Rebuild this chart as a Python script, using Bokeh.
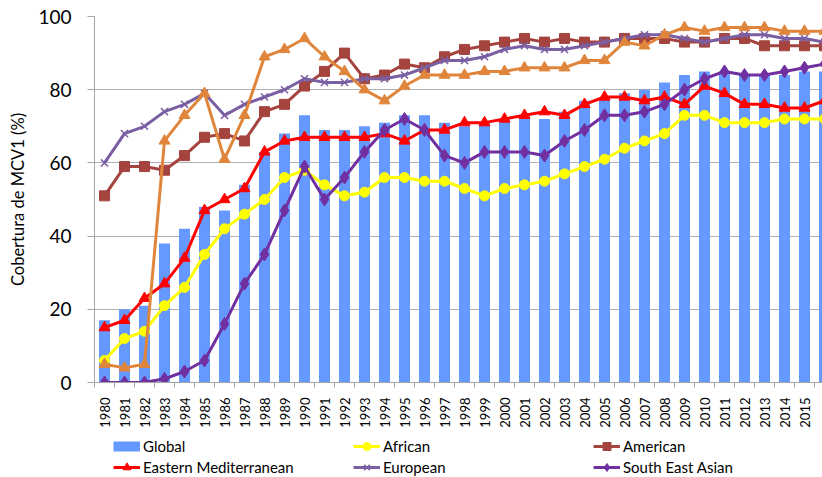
import math
from bokeh.plotting import figure
from bokeh.layouts import column
from bokeh.models import FixedTicker, Legend, LegendItem, Range1d
from bokeh.embed import file_html
from bokeh.resources import INLINE

years = [str(y) for y in range(1980, 2017)]
global_cov = [17, 20, 21, 38, 42, 48, 47, 54, 63, 68, 73, 69, 69, 70, 71, 73, 73, 71, 70, 71,
              72, 73, 72, 74, 77, 78, 79, 80, 82, 84, 85, 85, 84, 84, 84, 85, 85]
african = [6, 12, 14, 21, 26, 35, 42, 46, 50, 56, 58, 54, 51, 52, 56, 56, 55, 55, 53, 51,
           53, 54, 55, 57, 59, 61, 64, 66, 68, 73, 73, 71, 71, 71, 72, 72, 72]
american = [51, 59, 59, 58, 62, 67, 68, 66, 74, 76, 81, 85, 90, 83, 84, 87, 86, 89, 91, 92,
            93, 94, 93, 94, 93, 93, 94, 94, 94, 93, 93, 94, 94, 92, 92, 92, 92]
eastern_med = [15, 17, 23, 27, 34, 47, 50, 53, 63, 66, 67, 67, 67, 67, 68, 66, 69, 69, 71, 71,
               72, 73, 74, 73, 76, 78, 78, 77, 78, 76, 81, 79, 76, 76, 75, 75, 77]
european = [60, 68, 70, 74, 76, 79, 73, 76, 78, 80, 83, 82, 82, 83, 83, 84, 86, 88, 88, 89,
            91, 92, 91, 91, 92, 93, 94, 95, 95, 94, 93, 94, 95, 95, 94, 94, 93]
south_east_asian = [0, 0, 0, 1, 3, 6, 16, 27, 35, 47, 59, 50, 56, 63, 69, 72, 69, 62, 60, 63,
                    63, 63, 62, 66, 69, 73, 73, 74, 76, 80, 83, 85, 84, 84, 85, 86, 87]
western_pacific = [5, 4, 5, 66, 73, 79, 61, 73, 89, 91, 94, 89, 85, 80, 77, 81, 84, 84, 84, 85,
                   85, 86, 86, 86, 88, 88, 93, 92, 95, 97, 96, 97, 97, 97, 96, 96, 96]
y_ticks = [0, 20, 40, 60, 80, 100]

idx = list(range(len(years)))
FONT = "Lato"
BAR_COLOR = "#6699FF"
STYLES = {
    "African": ("#FFFF00", "circle", 10),
    "American": ("#A5443F", "square", 10),
    "Eastern Mediterranean": ("#FF0000", "triangle", 11),
    "European": ("#7A5FA3", "x", 10),
    "South East Asian": ("#7030A0", "diamond", 13),
    "Western Pacific": ("#E0863C", "triangle", 11),
}

W = 822
LEFT = 94
p = figure(width=W, height=432, output_backend="svg", toolbar_location=None,
           x_range=Range1d(-0.5, 35.9), y_range=Range1d(0, 100),
           min_border_left=LEFT, min_border_right=0, min_border_top=16, min_border_bottom=50)
p.outline_line_color = None

p.vbar(x=idx, top=global_cov, width=0.55, fill_color=BAR_COLOR, line_color=None)

def series(fig, xs, vals, name):
    color, marker, msize = STYLES[name]
    l = fig.line(xs, vals, line_color=color, line_width=3)
    s = fig.scatter(xs, vals, marker=marker, size=msize, fill_color=color,
                    line_color=color, line_width=1.5 if marker == "x" else 1)
    return [l, s]

series(p, idx, african, "African")
series(p, idx, american, "American")
series(p, idx, eastern_med, "Eastern Mediterranean")
series(p, idx, european, "European")
series(p, idx, south_east_asian, "South East Asian")
series(p, idx, western_pacific, "Western Pacific")

# axes
xa = p.xaxis[0]
xa.ticker = FixedTicker(ticks=idx, minor_ticks=[i - 0.5 for i in range(len(years) + 1)])
xa.major_label_overrides = {i: y for i, y in enumerate(years)}
xa.major_label_orientation = math.pi / 2
xa.major_tick_line_color = None
xa.major_tick_out = 0
xa.major_tick_in = 0
xa.minor_tick_out = 5
xa.minor_tick_in = 0
xa.minor_tick_line_color = "#A6A6A6"
xa.axis_line_color = "#A6A6A6"
xa.major_label_standoff = 10
xa.major_label_text_font = FONT
xa.major_label_text_font_size = "13px"
xa.major_label_text_color = "black"

ya = p.yaxis[0]
ya.ticker = FixedTicker(ticks=y_ticks)
ya.major_tick_out = 7
ya.major_tick_in = 0
ya.major_tick_line_color = "#A6A6A6"
ya.minor_tick_line_color = None
ya.axis_line_color = "#A6A6A6"
ya.major_label_standoff = 16
ya.major_label_text_font = FONT
ya.major_label_text_font_size = "19px"
ya.major_label_text_color = "black"
ya.axis_label = "Cobertura de MCV1 (%)"
ya.axis_label_text_font = FONT
ya.axis_label_text_font_size = "16.5px"
ya.axis_label_text_font_style = "normal"
ya.axis_label_text_color = "black"
ya.axis_label_standoff = 7

p.xgrid.grid_line_color = None
p.ygrid.grid_line_color = "#B0B0B0"
p.ygrid.ticker = FixedTicker(ticks=y_ticks)

# legend strip below the chart (legend swatches use renderers with a single NaN point)
lf = figure(width=W, height=45, output_backend="svg", toolbar_location=None,
            x_range=Range1d(0, 1), y_range=Range1d(0, 1),
            min_border_left=LEFT, min_border_right=0, min_border_top=0, min_border_bottom=0)
lf.axis.visible = False
lf.grid.grid_line_color = None
lf.outline_line_color = None

NAN = [float("nan")]
swatch = lf.line(x=NAN, y=NAN, line_color=BAR_COLOR, line_width=10, line_cap="butt")

def add_legend(label, renderers, x, y):
    lg = Legend(items=[LegendItem(label=label, renderers=renderers)],
                location=(x, y), padding=0, spacing=0, margin=0,
                glyph_width=27, glyph_height=20, label_height=20, label_standoff=3,
                border_line_color=None, background_fill_alpha=0,
                label_text_font=FONT, label_text_font_size="15px", label_text_color="black")
    lf.add_layout(lg, "center")

row1, row2 = 21, 0
add_legend("Global", [swatch], 19, row1)
add_legend("African", series(lf, NAN, NAN, "African"), 259, row1)
add_legend("American", series(lf, NAN, NAN, "American"), 499, row1)
add_legend("Eastern Mediterranean", series(lf, NAN, NAN, "Eastern Mediterranean"), 19, row2)
add_legend("European", series(lf, NAN, NAN, "European"), 259, row2)
add_legend("South East Asian", series(lf, NAN, NAN, "South East Asian"), 499, row2)

open("out.html", "w").write(file_html(column(p, lf, spacing=0), INLINE))
